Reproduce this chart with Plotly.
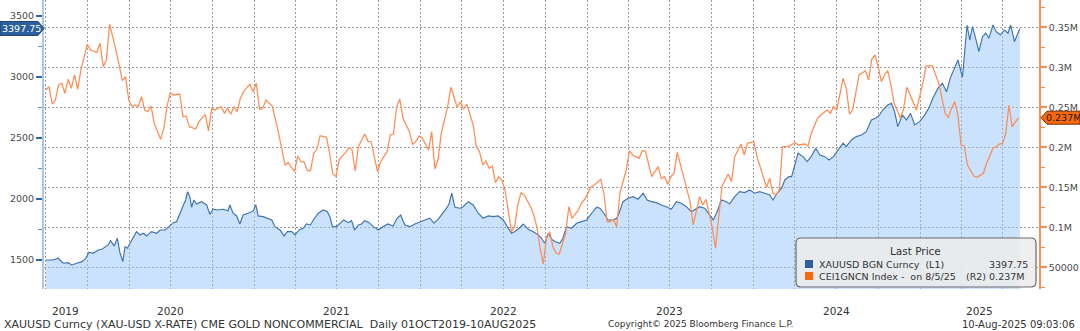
import numpy as np
import pandas as pd
import plotly.graph_objects as go

# XAUUSD spot, sampled by calendar day counted from 2019-10-01
gold_day = [0, 16, 27, 38, 49, 57, 68, 79, 86, 95, 104, 115, 123, 130, 137, 142, 150, 157, 163, 169,
            174, 179, 185, 192, 199, 207, 214, 221, 232, 243, 251, 262, 271, 280, 287, 294, 302, 307, 311, 316,
            320, 325, 331, 342, 353, 360, 367, 378, 389, 400, 404, 411, 419, 426, 433, 444, 455, 461, 466, 477,
            488, 496, 503, 514, 523, 530, 540, 547, 556, 565, 572, 581, 587, 598, 609, 618, 624, 629, 638, 645,
            654, 664, 671, 678, 686, 693, 700, 708, 719, 730, 740, 751, 762, 771, 779, 788, 799, 810, 821, 832,
            843, 852, 861, 872, 878, 885, 891, 898, 909, 916, 927, 938, 949, 960, 971, 982, 993, 1004, 1015, 1022,
            1029, 1039, 1048, 1059, 1070, 1081, 1088, 1095, 1103, 1110, 1119, 1128, 1135, 1143, 1154, 1165, 1176, 1187, 1198, 1209,
            1216, 1225, 1234, 1245, 1253, 1258, 1267, 1278, 1289, 1300, 1311, 1320, 1329, 1340, 1351, 1362, 1373, 1384, 1395, 1406,
            1417, 1428, 1435, 1446, 1454, 1465, 1472, 1483, 1494, 1501, 1512, 1523, 1534, 1545, 1556, 1567, 1578, 1589, 1596, 1605,
            1615, 1622, 1631, 1637, 1644, 1651, 1662, 1671, 1680, 1690, 1699, 1710, 1719, 1729, 1739, 1750, 1757, 1768, 1779, 1790,
            1801, 1812, 1821, 1830, 1837, 1848, 1856, 1863, 1870, 1880, 1889, 1898, 1907, 1918, 1929, 1938, 1947, 1958, 1968, 1977,
            1985, 1995, 2002, 2012, 2017, 2022, 2028, 2034, 2041, 2048, 2056, 2063, 2070, 2079, 2086, 2095, 2104, 2112, 2118, 2126,
            2138]
gold_px = [1500, 1500, 1514, 1473, 1478, 1459, 1473, 1486, 1506, 1563, 1555, 1582, 1588, 1609, 1623, 1658, 1615, 1678, 1555, 1486,
           1609, 1596, 1637, 1686, 1732, 1705, 1719, 1697, 1732, 1719, 1746, 1746, 1773, 1806, 1814, 1883, 1951, 1992, 2060, 2019,
           1932, 1992, 1959, 1978, 1951, 1875, 1916, 1910, 1916, 1904, 1951, 1883, 1861, 1795, 1869, 1883, 1902, 1951, 1861, 1855,
           1842, 1828, 1773, 1746, 1697, 1732, 1732, 1705, 1746, 1760, 1795, 1787, 1828, 1883, 1910, 1896, 1850, 1773, 1773, 1801,
           1828, 1806, 1822, 1746, 1787, 1795, 1822, 1810, 1773, 1746, 1773, 1795, 1779, 1842, 1869, 1787, 1773, 1795, 1814, 1828,
           1842, 1801, 1833, 1883, 1916, 1959, 2047, 1932, 1924, 1937, 1978, 1951, 1883, 1842, 1861, 1855, 1861, 1828, 1760, 1719,
           1732, 1760, 1795, 1751, 1732, 1705, 1678, 1637, 1719, 1670, 1650, 1637, 1678, 1773, 1760, 1801, 1814, 1828, 1883, 1932,
           1924, 1883, 1828, 1828, 1842, 1883, 1978, 2006, 2019, 1998, 2047, 1992, 1978, 1970, 1951, 1937, 1916, 1978, 1965, 1937,
           1896, 1924, 1937, 1924, 1883, 1828, 1883, 1992, 1978, 1959, 2019, 2060, 2052, 2074, 2047, 2060, 2047, 2033, 1992, 2047,
           2088, 2156, 2183, 2183, 2279, 2375, 2347, 2306, 2347, 2416, 2361, 2347, 2320, 2347, 2402, 2457, 2429, 2484, 2511, 2525,
           2552, 2647, 2661, 2689, 2729, 2770, 2784, 2716, 2593, 2689, 2647, 2702, 2607, 2634, 2689, 2743, 2825, 2907, 2948, 2879,
           2989, 3071, 3139, 2998, 3235, 3426, 3303, 3412, 3317, 3207, 3330, 3358, 3317, 3426, 3371, 3344, 3385, 3358, 3426, 3289,
           3397.75]

# CFTC gold non-commercial net position, weekly reports counted from 2019-10-01
cot_week = [0, 1, 2, 3, 4, 5, 6, 7, 8, 9, 10, 11, 13, 14, 16, 17, 18, 19, 20, 22,
            24, 25, 26, 27, 28, 29, 30, 31, 32, 33, 34, 36, 37, 38, 39, 40, 42, 43, 44, 45,
            47, 48, 50, 51, 52, 53, 55, 56, 57, 58, 59, 60, 61, 62, 64, 65, 66, 67, 68, 69,
            71, 73, 75, 76, 78, 79, 80, 81, 82, 83, 84, 85, 86, 88, 89, 90, 91, 92, 94, 95,
            96, 97, 98, 100, 101, 102, 104, 105, 107, 108, 109, 110, 111, 112, 114, 115, 116, 117, 118, 120,
            121, 122, 123, 124, 126, 127, 129, 130, 131, 132, 134, 135, 136, 137, 138, 139, 140, 141, 142, 143,
            144, 145, 146, 147, 148, 149, 150, 152, 153, 154, 155, 156, 157, 158, 159, 160, 161, 163, 164, 165,
            167, 168, 169, 171, 172, 174, 175, 176, 177, 178, 179, 180, 182, 183, 184, 186, 187, 188, 190, 192,
            193, 194, 195, 196, 197, 198, 199, 200, 202, 203, 204, 205, 206, 207, 208, 209, 210, 211, 212, 214,
            215, 216, 218, 219, 220, 222, 223, 224, 225, 226, 227, 228, 229, 230, 231, 233, 235, 236, 238, 239,
            240, 242, 243, 245, 246, 247, 248, 250, 251, 252, 253, 255, 257, 258, 259, 260, 261, 262, 263, 264,
            265, 266, 268, 269, 270, 272, 273, 275, 276, 277, 278, 280, 281, 282, 283, 284, 285, 286, 287, 288,
            289, 291, 292, 294, 295, 296, 297, 298, 299, 300, 301, 302, 303, 305]
cot_net = [271600, 275800, 254000, 259000, 278000, 280000, 267500, 285000, 273700, 290400, 272500, 296600, 328700, 321600, 318700, 330000, 300750, 309000, 354000, 321600,
           283250, 288250, 259000, 250750, 252900, 250750, 263250, 246600, 244500, 251600, 230000, 210000, 223750, 250750, 268250, 265400, 266600, 238250, 239000, 225750,
           222900, 232000, 241250, 220400, 248750, 246600, 250750, 242500, 248750, 241250, 250750, 244500, 261250, 269500, 279000, 269500, 280000, 247500, 248250, 259000,
           251600, 217500, 177900, 180750, 169500, 189100, 182000, 181600, 170750, 170750, 192500, 197500, 214500, 212500, 192500, 166600, 163250, 185000, 193250, 199500,
           197500, 170400, 200750, 216600, 207500, 207000, 169500, 182000, 194500, 215400, 216600, 250750, 260400, 236250, 219500, 203750, 207000, 214100, 212000, 196600,
           219500, 172900, 185000, 217500, 250750, 275000, 250000, 257000, 247500, 254100, 227900, 200750, 194500, 177900, 182900, 173750, 176600, 155750, 163250, 159100,
           146600, 117500, 94500, 100750, 127900, 143250, 140400, 125750, 115400, 100000, 73750, 54100, 87500, 94500, 75750, 67500, 66600, 92500, 125750, 111250,
           121600, 130750, 135000, 150750, 152900, 160000, 142500, 107000, 107000, 110000, 100750, 142500, 171600, 195750, 190400, 186250, 195400, 195400, 163250, 175750,
           161250, 163250, 153750, 163250, 167500, 193750, 177900, 165400, 132000, 102900, 121600, 138250, 127900, 135000, 117500, 98750, 73750, 109100, 150750, 166600,
           157000, 188250, 204100, 190400, 205000, 207000, 188250, 175750, 161250, 150000, 161250, 142500, 140400, 146600, 200750, 201600, 205750, 202900, 204100, 201600,
           217500, 236250, 240400, 246600, 242500, 250750, 246600, 286250, 273750, 241600, 246600, 290400, 295750, 284100, 310000, 315400, 300750, 282000, 290400, 295750,
           277900, 255000, 236250, 248750, 275000, 257000, 246600, 280000, 301600, 302000, 301600, 280000, 259000, 242500, 237000, 248750, 257000, 240400, 202900, 201600,
           177900, 164100, 162500, 167500, 180000, 190400, 198750, 200750, 204100, 205000, 217500, 252900, 225750, 237000]

assert len(gold_day) == len(gold_px), (len(gold_day), len(gold_px))
assert len(cot_week) == len(cot_net), (len(cot_week), len(cot_net))

start = pd.Timestamp("2019-10-01")
gold_dates = start + pd.to_timedelta(gold_day, unit="D")
cot_dates = start + pd.to_timedelta(np.array(cot_week) * 7, unit="D")

# axis setup
x_range = ["2019-09-27", "2025-09-19"]
quarter_starts = pd.date_range("2019-10-01", "2025-07-01", freq="QS")
year_labels = ["2019", "2020", "2021", "2022", "2023", "2024", "2025"]
year_label_dates = ["2019-11-14", "2020-07-01", "2021-07-01", "2022-07-01", "2023-07-01", "2024-07-01", "2025-05-11"]

left_range = [1262, 3631]
left_ticks = [1500, 2000, 2500, 3000, 3500]
right_range = [22875, 384125]
right_ticks = [50000, 100000, 150000, 200000, 250000, 300000, 350000]
right_ticktext = ["50000", "0.1M", "0.15M", "0.2M", "0.25M", "0.3M", "0.35M"]

gold_name = "XAUUSD BGN Curncy\u00a0\u00a0(L1)"
cot_name = "CEI1GNCN Index -\u00a0\u00a0on 8/5/25"
footer_left = "XAUUSD Curncy (XAU-USD X-RATE) CME GOLD NONCOMMERCIAL\u00a0\u00a0Daily 01OCT2019-10AUG2025"
footer_mid = "Copyright\u00a9 2025 Bloomberg Finance L.P."
footer_right = "10-Aug-2025 09:03:06"

BLUE_LINE = "#3f72b0"
BLUE_FILL = "rgba(150,198,248,0.50)"
BLUE_TAG = "#2c5f9e"
ORANGE_LINE = "#ff8c52"
ORANGE_TAG = "#f7680f"
GRID = "#9b9b9b"
TEXT = "#4a4a4a"
FONT = "DejaVu Sans, Verdana, sans-serif"

W, H = 1080, 331
L, R, T, B = 44, 41, 0, 42
PW, PH = W - L - R, H - T - B


def px_x(p):
    return (p - L) / PW


def px_y(p):
    return (H - B - p) / PH


fig = go.Figure()
fig.add_trace(go.Scatter(
    x=gold_dates, y=gold_px, mode="lines", name=gold_name,
    line=dict(color=BLUE_LINE, width=1.15), fill="tozeroy", fillcolor=BLUE_FILL,
    yaxis="y", hoverinfo="skip"))
fig.add_trace(go.Scatter(
    x=cot_dates, y=cot_net, mode="lines", name=cot_name,
    line=dict(color=ORANGE_LINE, width=1.25), yaxis="y2", hoverinfo="skip"))

shapes = []
annotations = []

# last-value tags on both axes
gold_last = gold_px[-1]
cot_last = cot_net[-1]
shapes.append(dict(type="path", xref="paper", yref="y", xsizemode="pixel", ysizemode="pixel",
                   xanchor=0, yanchor=gold_last,
                   path="M-44,-7 L-6,-7 L0,0 L-6,7 L-44,7 Z",
                   fillcolor=BLUE_TAG, line=dict(color="#1f416e", width=1), layer="above"))
annotations.append(dict(xref="paper", yref="y", x=0, y=gold_last, xshift=-23, text=f"{gold_last:.2f}",
                        showarrow=False, xanchor="center", yanchor="middle",
                        font=dict(family=FONT, size=9.5, color="white")))
shapes.append(dict(type="path", xref="paper", yref="y2", xsizemode="pixel", ysizemode="pixel",
                   xanchor=1, yanchor=cot_last,
                   path="M2,0 L8,-6.5 L41,-6.5 L41,6.5 L8,6.5 Z",
                   fillcolor=ORANGE_TAG, line=dict(color="#7a3000", width=1), layer="above"))
annotations.append(dict(xref="paper", yref="y2", x=1, y=cot_last, xshift=24, text=f"{cot_last / 1e6:.3f}M",
                        showarrow=False, xanchor="center", yanchor="middle",
                        font=dict(family=FONT, size=9.5, color="#1a1a1a")))

# legend box
shapes.append(dict(type="path", xref="paper", yref="paper", xsizemode="pixel", ysizemode="pixel",
                   xanchor=1, yanchor=0,
                   path="M-238,2 L-8,2 Q-3,2 -3,7 L-3,46 Q-3,51 -8,51 L-238,51 Q-243,51 -243,46 L-243,7 Q-243,2 -238,2 Z",
                   fillcolor="rgba(236,236,236,0.88)", line=dict(color="#6a6a6a", width=1.2), layer="above"))
for sq_y, color in [(264, BLUE_TAG), (276, ORANGE_TAG)]:
    shapes.append(dict(type="rect", xref="paper", yref="paper",
                       x0=px_x(805), x1=px_x(813), y0=px_y(sq_y + 4), y1=px_y(sq_y - 4),
                       fillcolor=color, line=dict(width=0), layer="above"))
legend_font = dict(family=FONT, size=9.5, color="#333333")
annotations += [
    dict(xref="paper", yref="paper", x=px_x(915), y=px_y(251), text="Last Price",
         xanchor="center", yanchor="middle", showarrow=False,
         font=dict(family=FONT, size=10.5, color="#333333")),
    dict(xref="paper", yref="paper", x=px_x(817), y=px_y(264), text=gold_name,
         xanchor="left", yanchor="middle", showarrow=False, font=legend_font),
    dict(xref="paper", yref="paper", x=px_x(1030), y=px_y(264), text=f"{gold_last:.2f}",
         xanchor="right", yanchor="middle", showarrow=False, font=legend_font),
    dict(xref="paper", yref="paper", x=px_x(817), y=px_y(276), text=cot_name,
         xanchor="left", yanchor="middle", showarrow=False, font=legend_font),
    dict(xref="paper", yref="paper", x=px_x(1026), y=px_y(276), text=f"(R2) {cot_last / 1e6:.3f}M",
         xanchor="right", yanchor="middle", showarrow=False, font=legend_font),
]

# year labels under the date axis
for lab, d in zip(year_labels, year_label_dates):
    annotations.append(dict(xref="x", yref="paper", x=d, y=px_y(311), text=lab, showarrow=False,
                            xanchor="center", yanchor="middle",
                            font=dict(family=FONT, size=10.5, color="#333333")))

# footer line
annotations += [
    dict(xref="paper", yref="paper", x=px_x(2), y=px_y(324), text=footer_left, showarrow=False,
         xanchor="left", yanchor="middle", font=dict(family=FONT, size=11, color="#333333")),
    dict(xref="paper", yref="paper", x=px_x(700), y=px_y(324), text=footer_mid, showarrow=False,
         xanchor="center", yanchor="middle", font=dict(family=FONT, size=9, color="#333333")),
    dict(xref="paper", yref="paper", x=px_x(1077), y=px_y(324), text=footer_right, showarrow=False,
         xanchor="right", yanchor="middle", font=dict(family=FONT, size=10, color="#333333")),
]

fig.update_layout(
    width=W, height=H,
    margin=dict(l=L, r=R, t=T, b=B, pad=0),
    paper_bgcolor="white", plot_bgcolor="white",
    showlegend=False,
    font=dict(family=FONT, size=10, color=TEXT),
    xaxis=dict(type="date", range=x_range, tickvals=list(quarter_starts), showticklabels=False,
               ticks="", showgrid=True, gridcolor=GRID, griddash="2px,2px", gridwidth=1,
               showline=False, zeroline=False, fixedrange=True),
    yaxis=dict(range=left_range, tickvals=left_ticks, showgrid=False, zeroline=False,
               ticks="outside", ticklen=6, tickwidth=2, tickcolor="#2f66ab",
               showline=True, linecolor="#a9c7ea", linewidth=2,
               tickfont=dict(family=FONT, size=9.5, color=TEXT),
               minor=dict(dtick=250, tick0=1500, ticks="outside", ticklen=4, tickwidth=1,
                          tickcolor="#5b8cc6", showgrid=False)),
    yaxis2=dict(range=right_range, tickvals=right_ticks, ticktext=right_ticktext,
                overlaying="y", side="right", showgrid=True, gridcolor=GRID, griddash="2px,2px",
                gridwidth=1, zeroline=False,
                ticks="outside", ticklen=6, tickwidth=2, tickcolor=ORANGE_LINE,
                showline=True, linecolor=ORANGE_LINE, linewidth=1.5,
                tickfont=dict(family=FONT, size=9.5, color=TEXT),
                minor=dict(dtick=25000, tick0=50000, ticks="outside", ticklen=4, tickwidth=1,
                           tickcolor=ORANGE_LINE, showgrid=False)),
    shapes=shapes,
    annotations=annotations,
)

fig.write_html("out.html")
